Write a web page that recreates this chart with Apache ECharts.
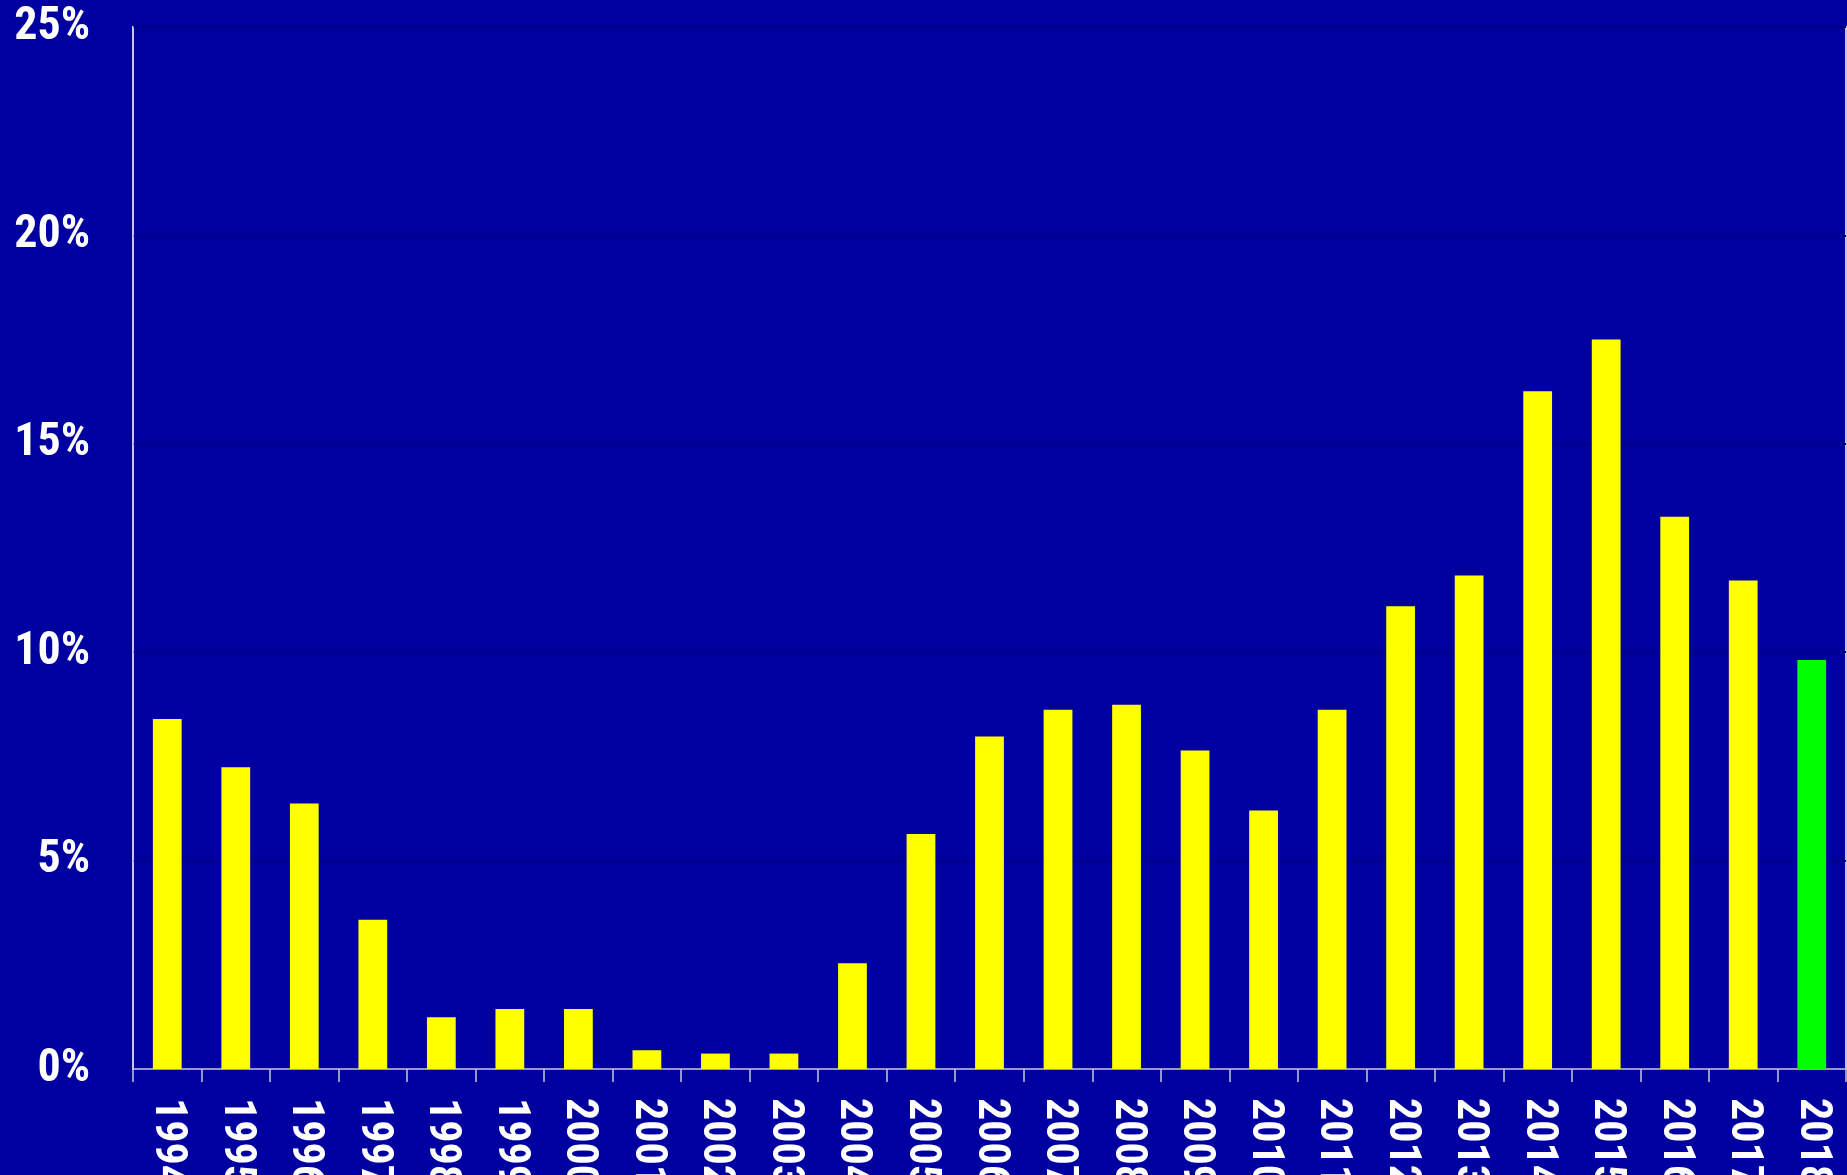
<!DOCTYPE html>
<html>
<head>
<meta charset="utf-8">
<script src="https://cdn.jsdelivr.net/npm/echarts@6/dist/echarts.min.js"></script>
<style>
html,body{margin:0;padding:0;background:#0000A0;}
#c{width:1847px;height:1175px;}
</style>
</head>
<body>
<div id="c"></div>
<script>
const years = ['1994','1995','1996','1997','1998','1999','2000','2001','2002','2003','2004','2005','2006','2007','2008','2009','2010','2011','2012','2013','2014','2015','2016','2017','2018'];
const values = [8.40,7.24,6.37,3.58,1.24,1.44,1.44,0.45,0.37,0.37,2.54,5.64,7.98,8.62,8.74,7.64,6.20,8.62,11.10,11.84,16.26,17.50,13.25,11.72,9.81];
const highlightYear = '2018';
const yTicks = [0,5,10,15,20,25];

const FONT = "'Liberation Sans Narrow','Arial Narrow','Roboto Condensed',sans-serif";
const chart = echarts.init(document.getElementById('c'));
chart.setOption({
  backgroundColor: '#0000A0',
  animation: false,
  grid: {left:133, right:1, top:27, bottom:106, containLabel:false, outerBoundsMode:'none', show:true, borderColor:'#C8C8DC', borderWidth:2, backgroundColor:'transparent'},
  xAxis: {
    type:'category', data: years, boundaryGap:true,
    axisLine:{show:true, lineStyle:{color:'#C8C8DC', width:1.5}},
    axisTick:{show:true, length:13, inside:false, lineStyle:{color:'#C8C8DC', width:1.5}},
    axisLabel:{rotate:-90, margin:29, color:'#FFFFFF', fontFamily:FONT, fontWeight:'bold', fontSize:44, interval:0, verticalAlign:'middle', hideOverlap:false},
    splitLine:{show:false}
  },
  yAxis: {
    type:'value', min:yTicks[0], max:yTicks[yTicks.length-1], interval:5,
    axisLine:{show:true, lineStyle:{color:'#C8C8DC', width:1.5}},
    axisTick:{show:false},
    axisLabel:{color:'#FFFFFF', fontFamily:FONT, fontWeight:'bold', fontSize:46, margin:43, formatter: v => v + '%'},
    splitLine:{show:true, lineStyle:{color:'#000088', width:2}}
  },
  series: [{
    type:'bar', barWidth:'42%',
    data: values.map((v,i) => ({value:v, itemStyle:{color: years[i]===highlightYear ? '#00FF00' : '#FFFF00'}}))
  }]
});
</script>
</body>
</html>
